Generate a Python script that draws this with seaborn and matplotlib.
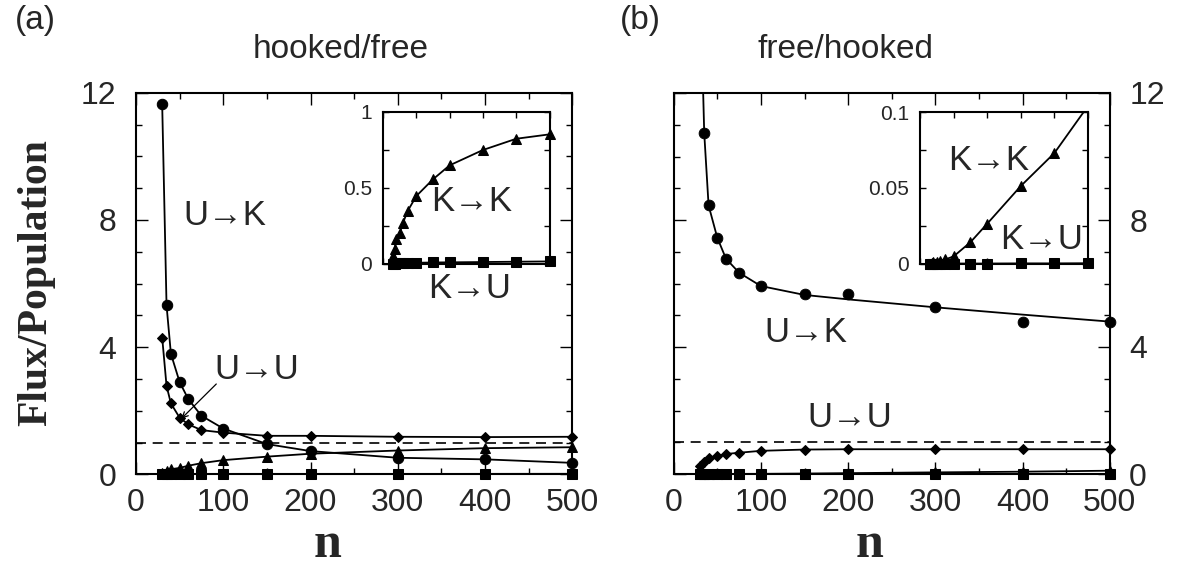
import numpy as np
import matplotlib
matplotlib.use("Agg")
import matplotlib.pyplot as plt
import seaborn as sns
from matplotlib.ticker import MultipleLocator, FuncFormatter

# ---------------- data ----------------
n = [30, 35, 40, 50, 60, 75, 100, 150, 200, 300, 400, 500]

# (a) hooked/free
a_UK = [11.64, 5.31, 3.79, 2.90, 2.36, 1.84, 1.44, 0.95, 0.73, 0.52, 0.47, 0.36]
a_UU = [4.30, 2.78, 2.23, 1.78, 1.57, 1.39, 1.31, 1.21, 1.21, 1.18, 1.17, 1.18]
a_KK = [0.05, 0.10, 0.16, 0.20, 0.27, 0.35, 0.445, 0.555, 0.647, 0.748, 0.822, 0.851]
a_KU = [0.0, 0.001, 0.002, 0.003, 0.004, 0.005, 0.006, 0.008, 0.009, 0.011, 0.013, 0.015]

# (b) free/hooked
b_UK_pts = [16.0, 10.74, 8.46, 7.44, 6.78, 6.34, 5.92, 5.66, 5.68, 5.25, 4.79, 4.80]
b_UK_fit = [16.0, 10.74, 8.46, 7.44, 6.78, 6.34, 5.92, 5.64, 5.50, 5.25, 5.02, 4.80]
b_UU = [0.25, 0.39, 0.49, 0.57, 0.63, 0.67, 0.73, 0.77, 0.78, 0.78, 0.78, 0.78]
b_KK = [0.0003, 0.0006, 0.001, 0.0015, 0.002, 0.003, 0.005, 0.0143, 0.0265, 0.0513, 0.073, 0.104]
b_KU = [0.0, 0.0, 0.0001, 0.0001, 0.0002, 0.0002, 0.0003, 0.0003, 0.0003, 0.0004, 0.0004, 0.0005]

reference_level = 1.0
main_ylim = (0, 12)
xlim = (0, 500)

# ---------------- style ----------------
sns.set_style("ticks")
plt.rcParams['font.family'] = ['Liberation Sans', 'DejaVu Sans']
plt.rcParams['axes.linewidth'] = 1.5

W, H = 1191, 576
fig = plt.figure(figsize=(W / 100, H / 100), dpi=100)


def fx(px):
    return px / W


def fy(py):
    return 1 - py / H


def axes_px(x0, y0, x1, y1):
    return [fx(x0), fy(y1), (x1 - x0) / W, (y1 - y0) / H]


axA = fig.add_axes(axes_px(136, 92.7, 572.3, 474.3))
axB = fig.add_axes(axes_px(673.7, 93, 1109.7, 474))
inA = fig.add_axes(axes_px(383, 111.7, 549.5, 263.7))
inB = fig.add_axes(axes_px(920, 112, 1088, 264))

LW = 1.3


def series(ax, y, marker, ms, ylim):
    sns.lineplot(x=n, y=y, ax=ax, color='k', lw=LW, marker=None, estimator=None)
    xs = [a for a, b in zip(n, y) if ylim[0] - 1e-9 <= b <= ylim[1] + 1e-9]
    ys = [b for b in y if ylim[0] - 1e-9 <= b <= ylim[1] + 1e-9]
    sns.lineplot(x=xs, y=ys, ax=ax, color='k', lw=0, marker=marker, markersize=ms,
                 markeredgecolor='k', markerfacecolor='k', estimator=None,
                 clip_on=False, zorder=5)


def style_main(ax, side):
    ax.set_xlim(*xlim)
    ax.set_ylim(*main_ylim)
    ax.xaxis.set_major_locator(MultipleLocator(100))
    ax.xaxis.set_minor_locator(MultipleLocator(50))
    ax.yaxis.set_major_locator(MultipleLocator(4))
    ax.yaxis.set_minor_locator(MultipleLocator(1))
    ax.tick_params(which='both', direction='in', top=True, right=True, width=1.0,
                   labelsize=23, color='k')
    ax.tick_params(which='major', length=8.5)
    ax.tick_params(which='minor', length=4.3)
    ax.tick_params(axis='x', pad=10)
    if side == 'left':
        ax.tick_params(axis='y', labelleft=True, labelright=False, pad=14)
    else:
        ax.tick_params(axis='y', labelleft=False, labelright=True, pad=14)
    for s in ax.spines.values():
        s.set_visible(True)
        s.set_linewidth(1.5)
        s.set_color('k')
    ax.axhline(reference_level, color='k', lw=1.2, ls=(0, (6, 4)), zorder=1)
    ax.set_xlabel('')
    ax.set_ylabel('')


def style_inset(ax, ylim, ymaj, ymin):
    ax.set_xlim(*xlim)
    ax.set_ylim(*ylim)
    ax.set_facecolor('white')
    ax.xaxis.set_major_locator(MultipleLocator(100))
    ax.yaxis.set_major_locator(MultipleLocator(ymaj))
    ax.yaxis.set_minor_locator(MultipleLocator(ymin))
    ax.tick_params(which='both', direction='in', top=True, right=True, width=1.0,
                   length=4.5, labelsize=15, color='k')
    ax.tick_params(axis='x', labelbottom=False)
    ax.tick_params(axis='y', pad=8)
    ax.yaxis.set_major_formatter(FuncFormatter(lambda v, p: '%g' % v))
    for s in ax.spines.values():
        s.set_visible(True)
        s.set_linewidth(1.5)
        s.set_color('k')
    ax.set_xlabel('')
    ax.set_ylabel('')


# ---- panel (a)
series(axA, a_UK, 'o', 7.5, main_ylim)
series(axA, a_UU, 'D', 5.5, main_ylim)
series(axA, a_KK, '^', 7.5, main_ylim)
series(axA, a_KU, 's', 6.5, main_ylim)
style_main(axA, 'left')

# ---- panel (b)
sns.lineplot(x=n, y=b_UK_fit, ax=axB, color='k', lw=LW, estimator=None)
vis = [(a, b) for a, b in zip(n, b_UK_pts) if b <= main_ylim[1]]
sns.scatterplot(x=[v[0] for v in vis], y=[v[1] for v in vis], ax=axB, color='k',
                s=60, edgecolor='k', clip_on=False, zorder=5)
series(axB, b_UU, 'D', 5.5, main_ylim)
series(axB, b_KK, '^', 7.5, main_ylim)
series(axB, b_KU, 's', 6.5, main_ylim)
style_main(axB, 'right')

# ---- insets
series(inA, a_KK, '^', 7.5, (0, 1))
series(inA, a_KU, 's', 6.5, (0, 1))
style_inset(inA, (0, 1), 0.5, 0.25)

series(inB, b_KK, '^', 7, (0, 0.1))
series(inB, b_KU, 's', 6.5, (0, 0.1))
style_inset(inB, (0, 0.1), 0.05, 0.025)

# ---- annotations
tfs = 25
axA.text(102, 8.15, 'U→K', fontsize=tfs, ha='center', va='center')
axA.text(138, 3.31, 'U→U', fontsize=tfs, ha='center', va='center')
axA.annotate('', xy=(52, 1.75), xytext=(92, 2.84),
             arrowprops=dict(arrowstyle='->', lw=0.9, color='k', shrinkA=0, shrinkB=0))
inA.text(267, 0.41, 'K→K', fontsize=tfs, ha='center', va='center')
inA.text(261, -0.166, 'K→U', fontsize=tfs, ha='center', va='center', clip_on=False)

axB.text(152, 4.45, 'U→K', fontsize=tfs, ha='center', va='center')
axB.text(202, 1.78, 'U→U', fontsize=tfs, ha='center', va='center')
inB.text(205, 0.0684, 'K→K', fontsize=tfs, ha='center', va='center')
inB.text(362, 0.0164, 'K→U', fontsize=tfs, ha='center', va='center')

# ---- titles and axis labels
fig.text(fx(35), fy(20), '(a)', fontsize=24, ha='center', va='center')
fig.text(fx(341), fy(50), 'hooked/free', fontsize=24, ha='center', va='center')
fig.text(fx(640), fy(20), '(b)', fontsize=24, ha='center', va='center')
fig.text(fx(845), fy(50), 'free/hooked', fontsize=24, ha='center', va='center')

fig.text(fx(36), fy(283), 'Flux/Population', fontsize=30, fontweight='bold',
         family=['Liberation Serif', 'DejaVu Serif'], rotation=90, ha='center', va='center')
fig.text(fx(328), fy(545), 'n', fontsize=36, fontweight='bold',
         family=['Liberation Serif', 'DejaVu Serif'], ha='center', va='center')
fig.text(fx(870), fy(545), 'n', fontsize=36, fontweight='bold',
         family=['Liberation Serif', 'DejaVu Serif'], ha='center', va='center')

fig.savefig('out.png', dpi=100)
